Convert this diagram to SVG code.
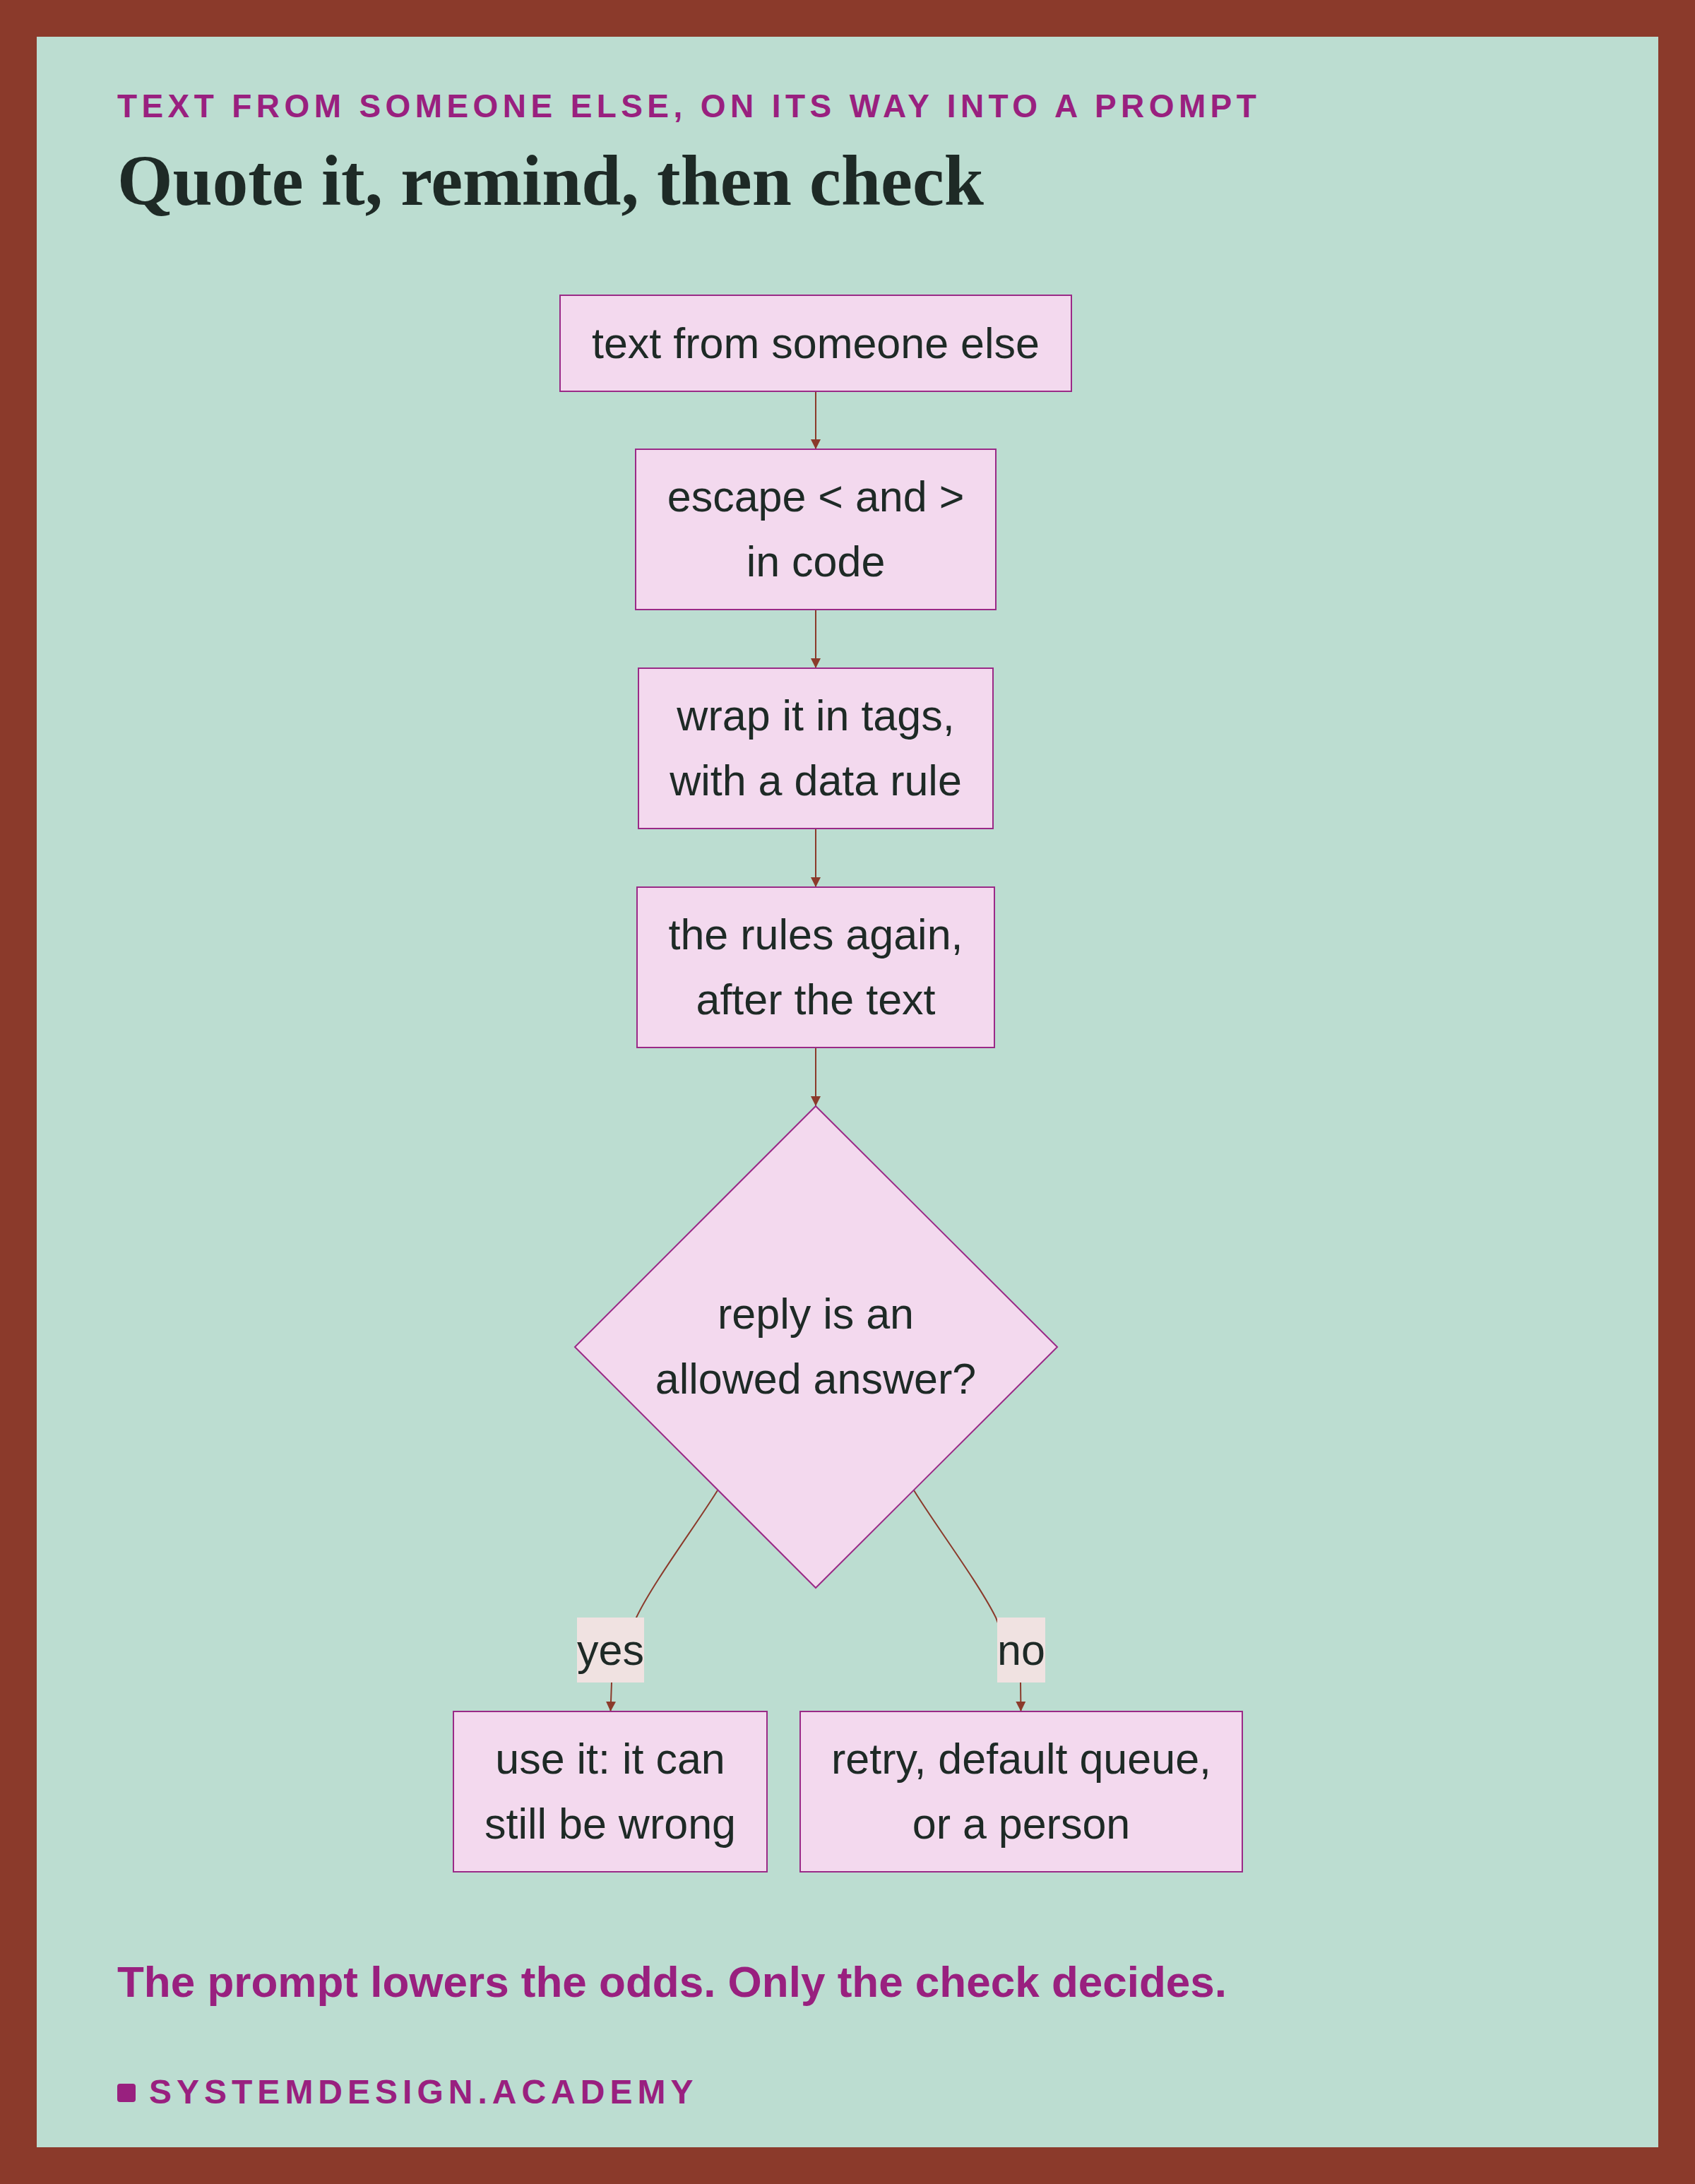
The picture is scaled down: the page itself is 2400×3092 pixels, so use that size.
<svg xmlns="http://www.w3.org/2000/svg" width="2400" height="3092" viewBox="0 0 2400 3092">
  <defs>
    <style>
      .node rect, .node polygon { fill: #F3D9EE; stroke: #9A2A87; stroke-width: 2; }
      .nt { font-family: "Liberation Sans", Arial, sans-serif; font-size: 61px; fill: #1E2A26; text-anchor: middle; }
      .edge { fill: none; stroke: #8B3A2B; stroke-width: 2; }
      .lbl { fill: #F0E2E1; }
      .purple { fill: #99207F; font-family: "Liberation Sans", Arial, sans-serif; font-weight: bold; }
    </style>
    <marker id="arrow" markerUnits="userSpaceOnUse" markerWidth="14" markerHeight="14" refX="14" refY="7" orient="auto">
      <path d="M0,0 L14,7 L0,14 z" fill="#8B3A2B"/>
    </marker>
  </defs>

  <rect x="0" y="0" width="2400" height="3092" fill="#8B3A2B"/>
  <rect x="52" y="52" width="2296" height="2988" fill="#BCDDD1"/>

  <g id="header">
    <text x="166" y="166" class="purple" font-size="46" letter-spacing="6.4">TEXT FROM SOMEONE ELSE, ON ITS WAY INTO A PROMPT</text>
    <text x="166" y="290" font-family="'Liberation Serif', 'Times New Roman', serif" font-weight="bold" font-size="101" fill="#1E2A26">Quote it, remind, then check</text>
  </g>

  <g id="connectors">
    <line class="edge" x1="1155" y1="554" x2="1155" y2="636" marker-end="url(#arrow)"/>
    <line class="edge" x1="1155" y1="863" x2="1155" y2="946" marker-end="url(#arrow)"/>
    <line class="edge" x1="1155" y1="1173" x2="1155" y2="1256" marker-end="url(#arrow)"/>
    <line class="edge" x1="1155" y1="1483" x2="1155" y2="1566" marker-end="url(#arrow)"/>
    <path class="edge" d="M1016,2110 C985,2160 925,2240 901,2290 L866,2382 L864.5,2423" marker-end="url(#arrow)"/>
    <path class="edge" d="M1294,2110 C1325,2160 1385,2240 1410,2290 L1445,2382 L1445.5,2423" marker-end="url(#arrow)"/>
    <g id="label-yes">
      <rect class="lbl" x="817" y="2290" width="95" height="92"/>
      <text class="nt" x="864.5" y="2357">yes</text>
    </g>
    <g id="label-no">
      <rect class="lbl" x="1412" y="2290" width="68" height="92"/>
      <text class="nt" x="1446" y="2357">no</text>
    </g>
  </g>

  <g id="n-source" class="node">
    <rect x="793" y="418" width="724" height="136"/>
    <text class="nt" x="1155" y="507">text from someone else</text>
  </g>

  <g id="n-escape" class="node">
    <rect x="900" y="636" width="510" height="227"/>
    <text class="nt" x="1155" y="724">escape &lt; and &gt;</text>
    <text class="nt" x="1155" y="816">in code</text>
  </g>

  <g id="n-wrap" class="node">
    <rect x="904" y="946" width="502" height="227"/>
    <text class="nt" x="1155" y="1034">wrap it in tags,</text>
    <text class="nt" x="1155" y="1126">with a data rule</text>
  </g>

  <g id="n-rules" class="node">
    <rect x="902" y="1256" width="506" height="227"/>
    <text class="nt" x="1155" y="1344">the rules again,</text>
    <text class="nt" x="1155" y="1436">after the text</text>
  </g>

  <g id="n-check" class="node">
    <polygon points="1155,1566 1497,1907 1155,2248 814,1907"/>
    <text class="nt" x="1155" y="1881">reply is an</text>
    <text class="nt" x="1155" y="1973">allowed answer?</text>
  </g>

  <g id="n-use" class="node">
    <rect x="642" y="2423" width="444" height="227"/>
    <text class="nt" x="864" y="2511">use it: it can</text>
    <text class="nt" x="864" y="2603">still be wrong</text>
  </g>

  <g id="n-retry" class="node">
    <rect x="1133" y="2423" width="626" height="227"/>
    <text class="nt" x="1446" y="2511">retry, default queue,</text>
    <text class="nt" x="1446" y="2603">or a person</text>
  </g>

  <g id="footer">
    <text x="166" y="2827" class="purple" font-size="62">The prompt lowers the odds. Only the check decides.</text>
    <rect x="166" y="2950" width="26" height="26" rx="4" fill="#99207F"/>
    <text x="211" y="2978" class="purple" font-size="48" letter-spacing="7">SYSTEMDESIGN.ACADEMY</text>
  </g>
</svg>
